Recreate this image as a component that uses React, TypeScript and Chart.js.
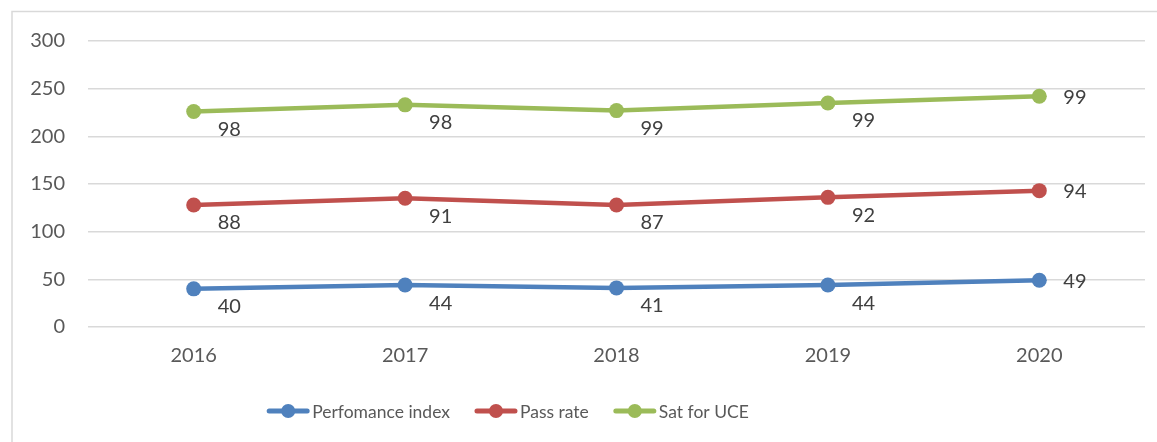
import React, { useEffect, useRef } from 'react';
import { Chart, registerables } from 'chart.js';

Chart.register(...registerables);

const years = ['2016', '2017', '2018', '2019', '2020'];
const perfIndex = [40, 44, 41, 44, 49];
const passRate = [88, 91, 87, 92, 94];
const satUCE = [98, 98, 99, 99, 99];
const seriesNames = ['Perfomance index', 'Pass rate', 'Sat for UCE'];
const seriesColors = ['#4f81bd', '#c0504d', '#9bbb59'];
const yMin = 0;
const yMax = 300;
const yStep = 50;

const FONT = 'Lato';

const framePlugin = {
  id: 'frame',
  beforeDraw(chart: any) {
    const ctx = chart.ctx;
    ctx.save();
    ctx.fillStyle = '#ffffff';
    ctx.fillRect(0, 0, chart.width, chart.height);
    ctx.strokeStyle = '#d9d9d9';
    ctx.lineWidth = 1.5;
    ctx.strokeRect(12, 11.5, chart.width + 20, chart.height + 20);
    ctx.restore();
  },
};

const labelPlugin = {
  id: 'valueLabels',
  afterDatasetsDraw(chart: any) {
    const ctx = chart.ctx;
    ctx.save();
    ctx.font = `20px ${FONT}`;
    ctx.fillStyle = '#404040';
    ctx.textAlign = 'left';
    ctx.textBaseline = 'middle';
    chart.data.datasets.forEach((ds: any, di: number) => {
      const meta = chart.getDatasetMeta(di);
      meta.data.forEach((pt: any, i: number) => {
        const last = i === meta.data.length - 1;
        ctx.fillText(String(ds.data[i]), pt.x + 24, pt.y + (last ? 1 : 18));
      });
    });
    ctx.restore();
  },
};

const legendPlugin = {
  id: 'customLegend',
  afterDraw(chart: any) {
    const ctx = chart.ctx;
    ctx.save();
    ctx.font = `17.5px ${FONT}`;
    ctx.textBaseline = 'middle';
    ctx.textAlign = 'left';
    const lineW = 42;
    const gapText = 3;
    const gapItem = 25;
    const items = chart.data.datasets.map((ds: any) => ({
      label: ds.label,
      color: ds.borderColor,
      w: lineW + gapText + ctx.measureText(ds.label).width,
    }));
    const total = items.reduce((s: number, it: any) => s + it.w, 0) + gapItem * (items.length - 1);
    let x = 508 - total / 2;
    const y = 411;
    items.forEach((it: any) => {
      ctx.strokeStyle = it.color;
      ctx.lineWidth = 5;
      ctx.lineCap = 'round';
      ctx.beginPath();
      ctx.moveTo(x + 2, y);
      ctx.lineTo(x + lineW - 2, y);
      ctx.stroke();
      ctx.fillStyle = it.color;
      ctx.beginPath();
      ctx.arc(x + lineW / 2, y, 7, 0, Math.PI * 2);
      ctx.fill();
      ctx.fillStyle = '#595959';
      ctx.fillText(it.label, x + lineW + gapText, y + 1);
      x += it.w + gapItem;
    });
    ctx.restore();
  },
};

export default function App() {
  const ref = useRef<HTMLCanvasElement | null>(null);
  useEffect(() => {
    if (!ref.current) return;
    const seriesData = [perfIndex, passRate, satUCE];
    const chart = new Chart(ref.current, {
      type: 'line',
      data: {
        labels: years,
        datasets: seriesData.map((d, i) => ({
          label: seriesNames[i],
          data: d,
          borderColor: seriesColors[i],
          backgroundColor: seriesColors[i],
          borderWidth: 4.5,
          pointRadius: 7.5,
          pointHoverRadius: 7.5,
          pointBorderWidth: 0,
          fill: false,
          tension: 0,
        })),
      },
      options: {
        responsive: false,
        animation: false,
        layout: { padding: { left: 0, top: 41, right: 12, bottom: 0 } },
        plugins: {
          legend: { display: false },
          tooltip: { enabled: false },
        },
        scales: {
          x: {
            offset: true,
            grid: { display: false, drawTicks: false },
            border: { display: false },
            ticks: {
              color: '#595959',
              font: { family: FONT, size: 20 },
              padding: 17,
            },
            afterFit: (s: any) => {
              s.height = 115;
            },
          },
          y: {
            stacked: true,
            min: yMin,
            max: yMax,
            grid: { color: '#d9d9d9', lineWidth: 1.5, drawTicks: false },
            border: { display: false },
            ticks: {
              stepSize: yStep,
              color: '#595959',
              font: { family: FONT, size: 20 },
              padding: 23,
            },
            afterFit: (s: any) => {
              s.width = 88;
            },
          },
        },
      },
      plugins: [framePlugin, labelPlugin, legendPlugin],
    });
    return () => chart.destroy();
  }, []);
  return (
    <div style={{ position: 'fixed', left: 0, top: 0, width: 1157, height: 442 }}>
      <canvas ref={ref} width={1157} height={442} />
    </div>
  );
}
